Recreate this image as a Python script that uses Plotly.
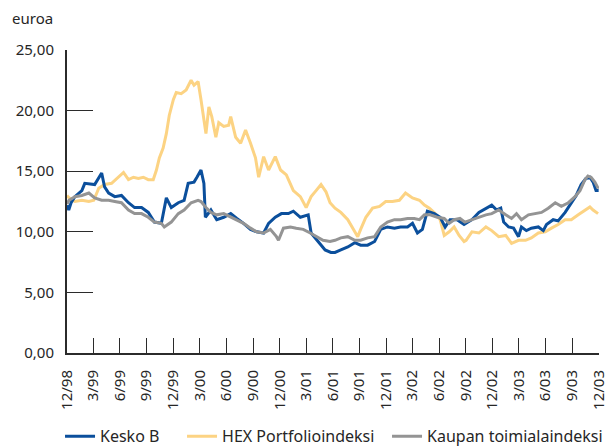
import plotly.graph_objects as go

# ---- data ----
kesko_dates = ["1998-12-31","1999-01-06","1999-01-14","1999-01-27","1999-02-20","1999-03-02","1999-04-05","1999-04-29","1999-05-09","1999-05-23",
    "1999-06-13","1999-07-06","1999-07-30","1999-08-20","1999-09-13","1999-10-06","1999-10-27","1999-11-20","1999-12-07","1999-12-24",
    "2000-01-17","2000-02-06","2000-02-20","2000-03-11","2000-03-21","2000-04-04","2000-04-14","2000-04-19","2000-05-08","2000-05-28",
    "2000-06-21","2000-07-15","2000-08-05","2000-08-28","2000-09-21","2000-10-12","2000-11-05","2000-11-22","2000-12-15","2001-01-05",
    "2001-01-29","2001-02-15","2001-03-11","2001-04-07","2001-04-17","2001-05-11","2001-06-04","2001-06-24","2001-07-08","2001-07-28",
    "2001-08-21","2001-09-14","2001-10-04","2001-10-28","2001-11-21","2001-12-12","2002-01-04","2002-01-28","2002-02-18","2002-03-14",
    "2002-03-31","2002-04-17","2002-05-04","2002-05-21","2002-06-14","2002-07-04","2002-07-21","2002-08-07","2002-08-31","2002-09-24",
    "2002-10-01","2002-10-21","2002-11-14","2002-12-08","2002-12-28","2003-01-14","2003-01-28","2003-02-07","2003-02-24","2003-03-13",
    "2003-03-30","2003-04-09","2003-04-26","2003-05-13","2003-06-06","2003-06-23","2003-07-04","2003-07-27","2003-08-13","2003-09-06",
    "2003-09-27","2003-10-14","2003-10-31","2003-11-16","2003-11-30","2003-12-11","2003-12-21","2003-12-30"]
kesko_values = [12.2,11.8,12.4,12.9,13.4,14.0,13.9,14.85,13.7,13.2,
    12.9,13.0,12.4,12.0,12.0,11.6,10.8,10.7,12.8,12.0,
    12.4,12.6,14.0,14.1,14.5,15.1,14.0,11.2,11.8,11.0,
    11.2,11.5,11.1,10.7,10.2,10.0,9.9,10.7,11.2,11.5,
    11.5,11.7,11.2,11.4,9.9,9.2,8.5,8.3,8.3,8.5,
    8.75,9.1,8.9,8.9,9.2,10.2,10.4,10.3,10.4,10.4,
    10.7,9.9,10.2,11.7,11.5,11.2,10.4,11.0,11.0,10.6,
    10.7,11.0,11.6,11.95,12.2,11.8,11.95,10.8,10.4,10.3,
    9.6,10.4,10.1,10.3,10.4,10.1,10.6,11.0,10.9,11.6,
    12.4,13.0,13.9,14.4,14.5,14.1,13.4,13.4]

hex_dates = ["1998-12-31","1999-01-07","1999-01-27","1999-02-20","1999-03-16","1999-04-02","1999-04-19","1999-05-09","1999-06-02","1999-06-26",
    "1999-07-13","1999-07-30","1999-08-16","1999-09-02","1999-09-19","1999-10-06","1999-10-23","1999-11-03","1999-11-13","1999-11-26",
    "1999-12-07","1999-12-17","1999-12-31","2000-01-10","2000-01-27","2000-02-13","2000-03-01","2000-03-11","2000-03-25","2000-04-04",
    "2000-04-14","2000-04-21","2000-05-01","2000-05-11","2000-05-25","2000-06-04","2000-06-21","2000-07-08","2000-07-15","2000-08-01",
    "2000-08-18","2000-09-04","2000-09-21","2000-10-08","2000-10-19","2000-11-05","2000-11-22","2000-12-15","2001-01-02","2001-01-22",
    "2001-02-15","2001-03-11","2001-03-31","2001-04-17","2001-05-04","2001-05-21","2001-06-07","2001-06-21","2001-07-08","2001-07-28",
    "2001-08-21","2001-09-07","2001-09-24","2001-10-04","2001-10-22","2001-11-14","2001-12-08","2001-12-29","2002-01-21","2002-02-14",
    "2002-03-07","2002-03-31","2002-04-24","2002-05-11","2002-05-28","2002-06-17","2002-07-04","2002-07-18","2002-08-04","2002-08-21",
    "2002-09-07","2002-09-24","2002-10-01","2002-10-21","2002-11-14","2002-12-08","2002-12-28","2003-01-21","2003-02-14","2003-03-06",
    "2003-03-30","2003-04-23","2003-05-13","2003-06-06","2003-06-30","2003-07-21","2003-08-13","2003-09-06","2003-09-27","2003-10-21",
    "2003-11-13","2003-11-30","2003-12-11","2003-12-28"]
hex_values = [13.0,12.8,12.5,12.6,12.5,12.6,13.6,13.9,14.0,14.5,
    14.9,14.3,14.5,14.4,14.5,14.3,14.3,15.1,16.1,16.9,
    18.1,19.6,20.9,21.5,21.4,21.7,22.5,22.1,22.4,20.9,
    19.4,18.1,20.3,19.5,17.8,19.0,18.7,18.8,19.5,17.8,
    17.3,18.4,17.3,16.1,14.5,16.2,15.1,16.2,15.1,14.7,
    13.4,12.9,12.0,12.9,13.4,13.9,13.3,12.4,11.95,11.6,
    11.0,10.3,9.6,10.2,11.2,11.95,12.1,12.5,12.5,12.6,
    13.2,12.8,12.6,12.2,11.95,11.5,11.0,9.7,10.0,10.4,
    9.7,9.2,9.3,10.0,9.9,10.4,10.1,9.6,9.7,9.05,
    9.3,9.3,9.5,9.9,10.0,10.3,10.6,11.0,11.0,11.4,
    11.8,12.05,11.8,11.5]

kaupan_dates = ["1998-12-31","1999-01-07","1999-01-27","1999-02-20","1999-03-16","1999-04-05","1999-04-29","1999-05-23","1999-06-13","1999-07-06",
    "1999-07-30","1999-08-20","1999-09-13","1999-10-06","1999-10-27","1999-11-20","1999-11-30","1999-12-24","2000-01-17","2000-02-06",
    "2000-03-01","2000-03-25","2000-04-04","2000-04-21","2000-05-08","2000-05-28","2000-06-21","2000-07-15","2000-08-05","2000-08-28",
    "2000-09-21","2000-10-12","2000-11-05","2000-11-28","2000-12-19","2000-12-26","2001-01-12","2001-02-05","2001-02-25","2001-03-21",
    "2001-04-14","2001-05-04","2001-05-28","2001-06-21","2001-07-08","2001-07-28","2001-08-21","2001-09-14","2001-10-04","2001-10-28",
    "2001-11-21","2001-12-12","2002-01-04","2002-01-28","2002-02-18","2002-03-14","2002-04-06","2002-04-24","2002-05-11","2002-05-31",
    "2002-06-24","2002-07-18","2002-08-04","2002-08-21","2002-09-10","2002-09-27","2002-10-21","2002-11-14","2002-12-08","2002-12-28",
    "2003-01-21","2003-02-14","2003-03-06","2003-03-23","2003-04-09","2003-05-03","2003-05-27","2003-06-17","2003-07-10","2003-08-03",
    "2003-08-24","2003-09-17","2003-10-10","2003-10-27","2003-11-13","2003-11-23","2003-12-04","2003-12-17","2003-12-28","2003-12-30"]
kaupan_values = [12.3,12.6,12.9,13.0,13.2,12.8,12.6,12.6,12.5,12.4,
    11.8,11.5,11.5,11.2,10.8,10.7,10.4,10.8,11.5,11.8,
    12.4,12.6,12.5,12.0,11.6,11.4,11.5,11.2,11.0,10.7,
    10.3,10.0,9.9,10.2,9.6,9.3,10.3,10.4,10.3,10.2,
    9.9,9.6,9.3,9.2,9.3,9.5,9.6,9.3,9.3,9.5,
    9.6,10.4,10.8,11.0,11.0,11.1,11.1,11.0,11.4,11.4,
    11.2,11.1,10.7,11.0,11.1,10.8,11.0,11.2,11.4,11.5,
    11.8,11.4,11.1,11.5,11.0,11.4,11.5,11.6,11.95,12.4,
    12.1,12.4,12.9,13.4,14.3,14.6,14.5,14.1,13.6,13.7]

tick_dates = ["1998-12-31","1999-03-31","1999-06-30","1999-09-30","1999-12-31","2000-03-31","2000-06-30","2000-09-30","2000-12-31",
    "2001-03-31","2001-06-30","2001-09-30","2001-12-31","2002-03-31","2002-06-30","2002-09-30","2002-12-31",
    "2003-03-31","2003-06-30","2003-09-30","2003-12-31"]
tick_labels = ["12/98","3/99","6/99","9/99","12/99","3/00","6/00","9/00","12/00",
    "3/01","6/01","9/01","12/01","3/02","6/02","9/02","12/02",
    "3/03","6/03","9/03","12/03"]
y_ticks = [0, 5, 10, 15, 20, 25]

series_names = ["Kesko B", "HEX Portfolioindeksi", "Kaupan toimialaindeksi"]
series_colors = ["#0b4f9c", "#fcd383", "#949494"]

FONT = "Noto Sans, Open Sans, sans-serif"
TXT = "#262626"
AX = "#2b2b2b"
LW = 3

fig = go.Figure()
# draw order: HEX at bottom, Kesko in the middle, Kaupan on top
fig.add_trace(go.Scatter(x=hex_dates, y=hex_values, mode="lines", name=series_names[1],
                         line=dict(color=series_colors[1], width=LW), legendrank=2, legendwidth=160))
fig.add_trace(go.Scatter(x=kesko_dates, y=kesko_values, mode="lines", name=series_names[0],
                         line=dict(color=series_colors[0], width=LW), legendrank=1, legendwidth=77))
fig.add_trace(go.Scatter(x=kaupan_dates, y=kaupan_values, mode="lines", name=series_names[2],
                         line=dict(color=series_colors[2], width=LW), legendrank=3))

fig.update_layout(
    width=606, height=446,
    margin=dict(l=67, r=7, t=50, b=93, autoexpand=False),
    paper_bgcolor="white", plot_bgcolor="white",
    separators=",.",
    font=dict(family=FONT, size=15, color=TXT),
    showlegend=True,
    legend=dict(orientation="h", x=-0.0131, xanchor="left", y=-0.275, yanchor="middle",
                font=dict(family=FONT, size=16, color=TXT), traceorder="normal",
                itemwidth=30, bgcolor="rgba(0,0,0,0)", borderwidth=0),
    annotations=[dict(text="euroa", xref="paper", yref="paper", x=-0.107, y=1.105,
                      xanchor="left", yanchor="middle", showarrow=False,
                      font=dict(family=FONT, size=15, color=TXT))],
)
fig.update_xaxes(type="date", range=["1998-12-31", "2003-12-31 06:00"],
                 tickmode="array", tickvals=tick_dates, ticktext=tick_labels, tickangle=-90,
                 ticks="inside", ticklen=15, tickwidth=1.3, tickcolor=AX,
                 showline=True, linewidth=2, linecolor=AX, showgrid=False, zeroline=False,
                 ticklabelstandoff=9, ticklabeloverflow="allow", automargin=False,
                 tickfont=dict(family=FONT, size=15, color=TXT))
fig.update_yaxes(range=[0, 25], tickmode="array", tickvals=y_ticks, tickformat=".2f",
                 ticks="inside", ticklen=26, tickwidth=1.3, tickcolor=AX,
                 showline=True, linewidth=2, linecolor=AX, showgrid=False, zeroline=False,
                 ticklabelstandoff=8, automargin=False,
                 tickfont=dict(family=FONT, size=15, color=TXT))

fig.write_html("out.html", config={"displayModeBar": False},
               post_script="document.body.style.margin='0';")
